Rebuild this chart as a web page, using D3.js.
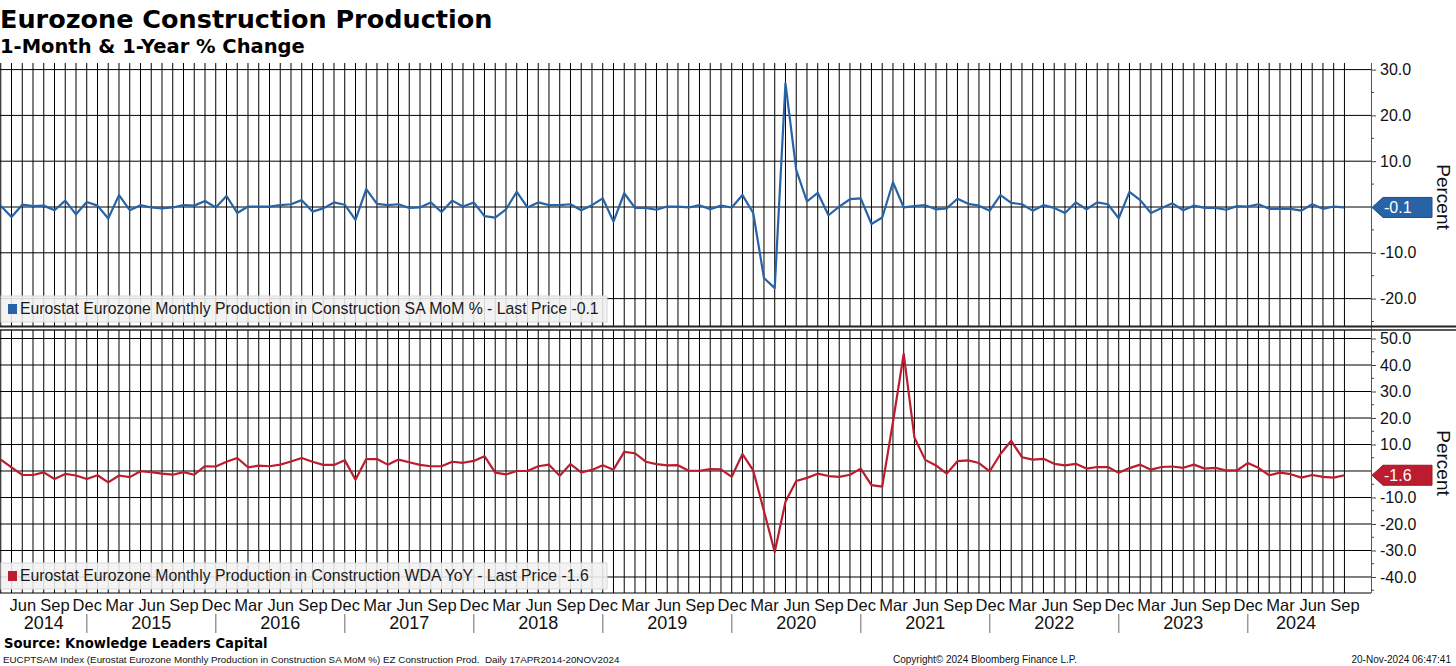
<!DOCTYPE html>
<html>
<head>
<meta charset="utf-8">
<script src="https://cdn.jsdelivr.net/npm/d3@7"></script>
<style>
html,body{margin:0;padding:0;background:#fff;}
svg{display:block;}
</style>
</head>
<body>
<svg id="chart" width="1456" height="666"></svg>
<script>
// ---------------- DATA ----------------
const startYear = 2014, startMonth = 4; // first observation: Apr 2014
const monthNames = ["Jan","Feb","Mar","Apr","May","Jun","Jul","Aug","Sep","Oct","Nov","Dec"];
const labelMonths = ["Mar","Jun","Sep","Dec"];
const yearLabels = ["2014","2015","2016","2017","2018","2019","2020","2021","2022","2023","2024"];

// Eurostat Eurozone Monthly Production in Construction SA MoM %
const momValues = [
  0.3,-2.2,0.5,0.2,0.3,-0.7,1.4,-1.6,1.1,
  0.3,-2.5,2.6,-0.7,0.4,-0.1,-0.3,-0.1,0.4,0.3,1.3,-0.1,
  2.4,-1.3,0.1,0.1,0.1,0.4,0.6,1.5,-1.0,-0.3,1.0,0.5,
  -2.8,3.9,0.7,0.4,0.6,-0.2,-0.1,1.0,-1.1,1.4,0.1,1.0,
  -2.0,-2.3,-0.5,3.3,-0.1,1.0,0.4,0.4,0.6,-0.7,0.4,1.9,
  -3.2,3.0,-0.2,-0.2,-0.6,0.1,0.1,-0.1,0.4,-0.5,0.3,-0.1,
  2.6,-1.3,-15.5,-17.7,27.0,8.1,1.2,3.1,-1.8,0.1,1.7,1.9,
  -3.7,-2.3,5.4,-0.1,0.2,0.4,-0.5,-0.3,1.8,0.7,0.3,-0.8,
  2.6,0.9,0.6,-0.8,0.4,-0.2,-1.3,1.0,-0.5,1.0,0.6,-2.5,
  3.3,1.5,-1.3,-0.2,0.8,-0.7,0.3,-0.2,-0.2,-0.6,0.2,0.1,
  0.6,-0.4,-0.4,-0.4,-0.8,0.6,-0.4,0.1,-0.1
];

// Eurostat Eurozone Monthly Production in Construction WDA YoY
const yoyValues = [
  4.3,1.4,-1.5,-1.5,-0.5,-3.0,-1.1,-1.7,-3.0,
  -1.6,-4.3,-1.7,-2.3,-0.1,-0.4,-1.0,-1.4,-0.4,-1.4,1.8,1.7,
  3.5,4.9,1.4,2.0,1.8,2.4,3.6,4.9,3.5,2.3,2.3,4.1,
  -3.3,4.5,4.5,2.4,4.3,3.3,2.3,1.8,1.8,3.5,3.1,3.8,
  5.6,-0.6,-1.3,0.0,0.0,1.8,2.4,-1.8,2.6,-0.5,0.4,2.2,
  0.5,7.2,6.7,3.5,2.6,2.1,2.2,0.1,0.1,0.7,0.6,-2.2,
  6.4,0.2,-15.1,-30.6,-11.6,-3.8,-2.6,-1.0,-1.9,-2.2,-1.4,0.9,
  -5.3,-5.9,18.5,44.2,12.6,4.2,2.1,-1.0,3.7,4.0,3.0,-0.1,
  6.4,11.4,5.2,4.3,4.6,2.7,2.1,2.7,0.9,1.5,1.5,-0.7,
  1.1,2.4,0.5,1.5,1.7,1.2,2.4,0.9,1.2,0.2,0.2,3.0,
  1.2,-1.6,-0.6,-1.2,-2.5,-1.5,-2.2,-2.5,-1.6
];

const momTicks = [-20,-10,0,10,20,30];
const yoyTicks = [-40,-30,-20,-10,0,10,20,30,40,50];

const momLegend = "Eurostat Eurozone Monthly Production in Construction SA MoM % - Last Price -0.1";
const yoyLegend = "Eurostat Eurozone Monthly Production in Construction WDA YoY - Last Price -1.6";

// ---------------- BUILD ----------------
const months = momValues.map((v,i)=>{
  const m = (startMonth-1+i)%12, y = startYear + Math.floor((startMonth-1+i)/12);
  return {i, m, y, name: monthNames[m]};
});
const momData = months.map((d,i)=>({i, v: momValues[i]}));
const yoyData = months.map((d,i)=>({i, v: yoyValues[i]}));

const svg = d3.select("#chart");
const BLUE = "#2763a6", RED = "#bc1c2f";
const FONT = "'Liberation Sans', Arial, sans-serif";
const BOLD = "'DejaVu Sans', Verdana, sans-serif";

const plotL = 0, plotR = 1371;
const x = d3.scaleLinear().domain([-0.07, 127.47]).range([plotL, plotR]);

const panels = [
  {data: momData, ticks: momTicks, top: 63, bottom: 326, domain: [-25.98, 31.44], color: BLUE,
   legend: momLegend, legendY: 296, last: "-0.1", percentY: 197},
  {data: yoyData, ticks: yoyTicks, top: 330, bottom: 593, domain: [-46.04, 53.21], color: RED,
   legend: yoyLegend, legendY: 563, last: "-1.6", percentY: 463}
];

panels.forEach((p, k) => {
  const y = d3.scaleLinear().domain(p.domain).range([p.bottom, p.top]);
  const g = svg.append("g");
  const clipId = "clip" + k;
  svg.append("clipPath").attr("id", clipId).append("rect")
    .attr("x", plotL).attr("y", p.top).attr("width", plotR - plotL).attr("height", p.bottom - p.top);

  // vertical monthly gridlines
  g.append("g").selectAll("line").data(months).join("line")
    .attr("x1", d => x(d.i)).attr("x2", d => x(d.i))
    .attr("y1", p.top).attr("y2", p.bottom)
    .attr("stroke", "#000").attr("stroke-width", 1);

  // horizontal gridlines
  g.append("g").selectAll("line").data(p.ticks).join("line")
    .attr("x1", plotL).attr("x2", plotR)
    .attr("y1", d => y(d)).attr("y2", d => y(d))
    .attr("stroke", "#000").attr("stroke-width", 1);

  // legend box
  const lg = g.append("g");
  lg.append("rect").attr("x", 1).attr("y", p.legendY).attr("width", 606).attr("height", 26)
    .attr("fill", "#f1f1f1").attr("fill-opacity", 0.88).attr("stroke", "#d8d8d8");
  lg.append("rect").attr("x", 8).attr("y", p.legendY + 8).attr("width", 9).attr("height", 10)
    .attr("fill", p.color);
  lg.append("text").attr("x", 20).attr("y", p.legendY + 18)
    .attr("font-family", FONT).attr("font-size", 15.8).attr("fill", "#1a1a1a").text(p.legend);

  // data line
  const line = d3.line().x(d => x(d.i)).y(d => y(d.v));
  g.append("path").datum(p.data).attr("clip-path", `url(#${clipId})`)
    .attr("d", line).attr("fill", "none").attr("stroke", p.color)
    .attr("stroke-width", 2.2).attr("stroke-linejoin", "round");

  // right axis (zero label is covered by the last-value tag)
  const axis = d3.axisRight(y).tickValues(p.ticks.filter(t => t !== 0)).tickSize(5).tickPadding(4)
    .tickFormat(d => d.toFixed(1));
  const ag = svg.append("g").attr("transform", `translate(${plotR},0)`).call(axis);
  ag.select(".domain").remove();
  ag.selectAll("text").attr("font-family", FONT).attr("font-size", 16).attr("fill", "#111");
  ag.selectAll("line").attr("stroke", "#444");
  // minor ticks
  const minor = d3.range(Math.ceil(p.domain[0] / 5) * 5, p.domain[1], 5).filter(v => v % 10 !== 0);
  ag.append("g").selectAll("line").data(minor).join("line")
    .attr("x1", 0).attr("x2", 3).attr("y1", d => y(d)).attr("y2", d => y(d)).attr("stroke", "#444");

  // last value tag
  const lv = p.data[p.data.length - 1].v, ty = y(lv);
  svg.append("path")
    .attr("d", `M${plotR + 1},${ty} L${plotR + 12},${ty - 10} L${plotR + 61},${ty - 10} L${plotR + 61},${ty + 10} L${plotR + 12},${ty + 10} Z`)
    .attr("fill", p.color).attr("stroke", d3.color(p.color).darker(0.6));
  svg.append("text").attr("x", plotR + 13).attr("y", ty + 6)
    .attr("font-family", FONT).attr("font-size", 16).attr("fill", "#fff").text(p.last);

  // Percent label
  svg.append("text").attr("transform", `translate(1437,${p.percentY}) rotate(90)`)
    .attr("text-anchor", "middle").attr("font-family", FONT).attr("font-size", 19)
    .attr("fill", "#111").text("Percent");
});

// right axis line
svg.append("line").attr("x1", plotR + 0.5).attr("x2", plotR + 0.5).attr("y1", 63).attr("y2", 593)
  .attr("stroke", "#555").attr("stroke-width", 1);

// panel separator (double line)
svg.append("line").attr("x1", 0).attr("x2", 1456).attr("y1", 326.5).attr("y2", 326.5)
  .attr("stroke", "#222").attr("stroke-width", 2);
svg.append("line").attr("x1", 0).attr("x2", 1456).attr("y1", 330).attr("y2", 330)
  .attr("stroke", "#222").attr("stroke-width", 1.5);

// x axis line
svg.append("line").attr("x1", 0).attr("x2", plotR).attr("y1", 593).attr("y2", 593)
  .attr("stroke", "#000").attr("stroke-width", 1);

// month labels
const labeled = months.filter(d => labelMonths.includes(d.name));
const xa = d3.axisBottom(x).tickValues(labeled.map(d => d.i)).tickSize(0).tickPadding(0)
  .tickFormat(i => months[i].name);
const xg = svg.append("g").attr("transform", "translate(0,599)").call(xa);
xg.select(".domain").remove();
xg.selectAll("text").attr("font-family", FONT).attr("font-size", 16.5).attr("fill", "#111").attr("dy", "0.75em");

// year separators & labels
const decs = months.filter(d => d.name === "Dec");
svg.append("g").selectAll("line").data(decs).join("line")
  .attr("x1", d => x(d.i)).attr("x2", d => x(d.i)).attr("y1", 614).attr("y2", 633)
  .attr("stroke", "#9a9a9a").attr("stroke-width", 1.5);
const yearPos = yearLabels.map(yl => {
  const yr = +yl;
  const inYear = months.filter(d => d.y === yr);
  const prevDec = months.find(d => d.y === yr - 1 && d.name === "Dec");
  const left = prevDec ? x(prevDec.i) : x(inYear[0].i);
  const right = x(inYear[inYear.length - 1].i);
  return {yl, cx: (left + right) / 2};
});
svg.append("g").selectAll("text").data(yearPos).join("text")
  .attr("x", d => d.cx).attr("y", 629).attr("text-anchor", "middle")
  .attr("font-family", FONT).attr("font-size", 18).attr("fill", "#111").text(d => d.yl);

// titles
svg.append("text").attr("x", 0).attr("y", 28).attr("font-family", BOLD).attr("font-weight", "bold")
  .attr("font-size", 25.5).attr("fill", "#000").text("Eurozone Construction Production");
svg.append("text").attr("x", 0).attr("y", 53).attr("font-family", BOLD).attr("font-weight", "bold")
  .attr("font-size", 19.5).attr("fill", "#000").text("1-Month & 1-Year % Change");

// footer
svg.append("text").attr("x", 4).attr("y", 648).attr("font-family", BOLD).attr("font-weight", "bold")
  .attr("font-size", 13.2).attr("fill", "#000").text("Source: Knowledge Leaders Capital");
svg.append("text").attr("x", 3).attr("y", 663).attr("font-family", FONT).attr("font-size", 9.8)
  .attr("fill", "#111").attr("xml:space", "preserve")
  .text("EUCPTSAM Index (Eurostat Eurozone Monthly Production in Construction SA MoM %) EZ Construction Prod.  Daily 17APR2014-20NOV2024");
svg.append("text").attr("x", 893).attr("y", 663).attr("font-family", FONT).attr("font-size", 10)
  .attr("fill", "#111").text("Copyright\u00A9 2024 Bloomberg Finance L.P.");
svg.append("text").attr("x", 1451).attr("y", 663).attr("text-anchor", "end").attr("font-family", FONT)
  .attr("font-size", 10).attr("fill", "#111").text("20-Nov-2024 06:47:41");
</script>
</body>
</html>
